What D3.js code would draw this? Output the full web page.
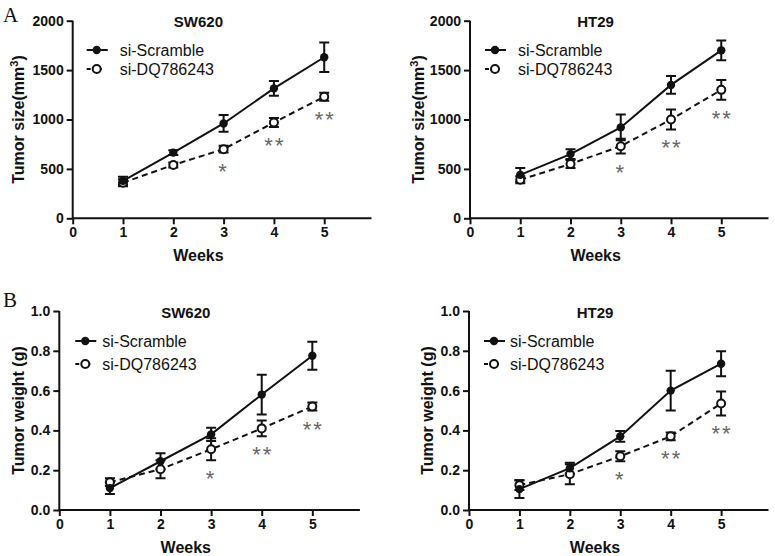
<!DOCTYPE html>
<html><head><meta charset="utf-8">
<script src="https://cdn.jsdelivr.net/npm/d3@7"></script>
<style>body{margin:0;background:#fff}svg{display:block}</style>
</head><body>
<script>
const weeks = [1, 2, 3, 4, 5];
const xTicks = [0, 1, 2, 3, 4, 5];
const stars = ["", "", "*", "**", "**"];
const seriesNames = ["si-Scramble", "si-DQ786243"];

// Panel A – tumor size (mm3)
const sizeTicks = [0, 500, 1000, 1500, 2000];
const swSizeScr = [380, 665, 960, 1315, 1630];
const swSizeScrErr = [40, 25, 85, 75, 150];
const swSizeDq = [360, 540, 700, 970, 1230];
const swSizeDqErr = [35, 25, 35, 45, 40];
const htSizeScr = [440, 650, 920, 1350, 1700];
const htSizeScrErr = [70, 50, 130, 90, 100];
const htSizeDq = [390, 550, 730, 1000, 1300];
const htSizeDqErr = [35, 40, 75, 100, 100];

// Panel B – tumor weight (g)
const weightTicks = [0, 0.2, 0.4, 0.6, 0.8, 1.0];
const swWtScr = [0.11, 0.245, 0.38, 0.58, 0.775];
const swWtScrErr = [0.03, 0.04, 0.033, 0.10, 0.07];
const swWtDq = [0.14, 0.205, 0.305, 0.41, 0.52];
const swWtDqErr = [0.02, 0.045, 0.055, 0.04, 0.02];
const htWtScr = [0.105, 0.21, 0.37, 0.60, 0.735];
const htWtScrErr = [0.045, 0.028, 0.027, 0.10, 0.063];
const htWtDq = [0.125, 0.18, 0.27, 0.37, 0.535];
const htWtDqErr = [0.025, 0.05, 0.025, 0.02, 0.06];

const W = 775, H = 556;
const svg = d3.select("body").append("svg").attr("width", W).attr("height", H);
const SANS = "'Liberation Sans', Arial, sans-serif";

const panels = [
  {title: "SW620", x0: 72.7, x1: 371.5, yTop: 20.7, yBot: 218.3, yMax: 2000, ticks: sizeTicks, fmt: d3.format("d"),
   scr: swSizeScr, scrErr: swSizeScrErr, dq: swSizeDq, dqErr: swSizeDqErr, ylab: "size", ylabX: 24, legY: [50, 69], legDx: 24, legTx: 47},
  {title: "HT29", x0: 470, x1: 768.5, yTop: 20.7, yBot: 218.3, yMax: 2000, ticks: sizeTicks, fmt: d3.format("d"),
   scr: htSizeScr, scrErr: htSizeScrErr, dq: htSizeDq, dqErr: htSizeDqErr, ylab: "size", ylabX: 424, legY: [50, 69], legDx: 25, legTx: 48},
  {title: "SW620", x0: 59.3, x1: 359.9, yTop: 311, yBot: 510, yMax: 1.0, ticks: weightTicks, fmt: d3.format(".1f"),
   scr: swWtScr, scrErr: swWtScrErr, dq: swWtDq, dqErr: swWtDqErr, ylab: "weight", ylabX: 24, legY: [341, 364], legDx: 26, legTx: 43},
  {title: "HT29", x0: 469, x1: 768.5, yTop: 311, yBot: 510, yMax: 1.0, ticks: weightTicks, fmt: d3.format(".1f"),
   scr: htWtScr, scrErr: htWtScrErr, dq: htWtDq, dqErr: htWtDqErr, ylab: "weight", ylabX: 433, legY: [341, 364], legDx: 25, legTx: 41}
];

panels.forEach(p => {
  const x = d3.scaleLinear().domain([0, 5.94]).range([p.x0, p.x1]);
  const y = d3.scaleLinear().domain([0, p.yMax]).range([p.yBot, p.yTop]);
  const g = svg.append("g");

  // axes
  const ya = g.append("g").attr("transform", `translate(${p.x0},0)`)
    .call(d3.axisLeft(y).tickValues(p.ticks).tickFormat(p.fmt).tickSize(6).tickPadding(3));
  const xa = g.append("g").attr("transform", `translate(0,${p.yBot})`)
    .call(d3.axisBottom(x).tickValues(xTicks).tickFormat(d3.format("d")).tickSize(6).tickPadding(3));
  [ya, xa].forEach(a => {
    a.select(".domain").attr("stroke", "#111").attr("stroke-width", 2).attr("d", null);
    a.selectAll(".tick line").attr("stroke", "#111").attr("stroke-width", 2);
    a.selectAll(".tick text").attr("fill", "#111").style("font-family", SANS).style("font-weight", "bold").style("font-size", "14px");
  });
  ya.select(".domain").attr("d", `M0,${p.yTop}V${p.yBot}`);
  xa.select(".domain").attr("d", `M${p.x0},0H${p.x1}`);

  // title
  g.append("text").attr("x", x(2.5)).attr("y", p.yTop + 6.5).attr("text-anchor", "middle")
    .style("font-family", SANS).style("font-weight", "bold").style("font-size", "15px").attr("fill", "#111").text(p.title);

  // x label
  g.append("text").attr("x", x(2.5)).attr("y", p.yBot + 43).attr("text-anchor", "middle")
    .style("font-family", SANS).style("font-weight", "bold").style("font-size", "16px").attr("fill", "#111").text("Weeks");

  // y label
  const yl = g.append("text").attr("transform", `translate(${p.ylabX},${(p.yTop + p.yBot) / 2}) rotate(-90)`)
    .attr("text-anchor", "middle").style("font-family", SANS).style("font-weight", "bold").style("font-size", "16px").attr("fill", "#111");
  if (p.ylab === "size") {
    yl.append("tspan").text("Tumor size(mm");
    yl.append("tspan").attr("dy", -6).style("font-size", "11px").text("3");
    yl.append("tspan").attr("dy", 6).text(")");
  } else {
    yl.text("Tumor weight (g)");
  }

  const line = d3.line().x((d, i) => x(weeks[i])).y(d => y(d));

  // lines
  g.append("path").datum(p.dq).attr("d", line).attr("fill", "none").attr("stroke", "#111")
    .attr("stroke-width", 2).attr("stroke-dasharray", "6,4");
  g.append("path").datum(p.scr).attr("d", line).attr("fill", "none").attr("stroke", "#111").attr("stroke-width", 2);

  // error bars
  function errBars(vals, errs) {
    const eg = g.append("g").attr("stroke", "#111").attr("stroke-width", 2).attr("fill", "none");
    vals.forEach((v, i) => {
      const cx = x(weeks[i]), yh = y(v + errs[i]), yl2 = y(v - errs[i]);
      eg.append("path").attr("d", `M${cx},${yh}V${yl2}M${cx - 5},${yh}H${cx + 5}M${cx - 5},${yl2}H${cx + 5}`);
    });
  }
  errBars(p.scr, p.scrErr);
  errBars(p.dq, p.dqErr);

  // markers
  g.selectAll(null).data(p.dq).enter().append("circle")
    .attr("cx", (d, i) => x(weeks[i])).attr("cy", d => y(d)).attr("r", 4)
    .attr("fill", "#fff").attr("stroke", "#111").attr("stroke-width", 2);
  g.selectAll(null).data(p.scr).enter().append("circle")
    .attr("cx", (d, i) => x(weeks[i])).attr("cy", d => y(d)).attr("r", 4.2).attr("fill", "#111");

  // significance stars
  g.selectAll(null).data(stars).enter().append("text")
    .attr("x", (d, i) => x(weeks[i]) + (d.length > 1 ? 1 : 0))
    .attr("y", (d, i) => y(p.dq[i] - p.dqErr[i]) + 26)
    .attr("text-anchor", "middle").style("font-family", SANS).style("font-size", "22px")
    .style("letter-spacing", "2px").attr("fill", "#666").text(d => d);

  // legend
  const lx = p.x0 + p.legDx;
  const lg = g.append("g");
  lg.append("line").attr("x1", lx - 10).attr("x2", lx + 11).attr("y1", p.legY[0]).attr("y2", p.legY[0])
    .attr("stroke", "#111").attr("stroke-width", 2);
  lg.append("circle").attr("cx", lx).attr("cy", p.legY[0]).attr("r", 4.2).attr("fill", "#111");
  lg.append("line").attr("x1", lx - 10).attr("x2", lx + 11).attr("y1", p.legY[1]).attr("y2", p.legY[1])
    .attr("stroke", "#111").attr("stroke-width", 2).attr("stroke-dasharray", "4,7");
  lg.append("circle").attr("cx", lx).attr("cy", p.legY[1]).attr("r", 4).attr("fill", "#fff")
    .attr("stroke", "#111").attr("stroke-width", 2);
  seriesNames.forEach((n, i) => {
    lg.append("text").attr("x", p.x0 + p.legTx).attr("y", p.legY[i] + 6)
      .style("font-family", SANS).style("font-size", "16px").attr("fill", "#111").text(n);
  });
});

// panel letters
svg.append("text").attr("x", 3).attr("y", 22).style("font-family", "'Liberation Serif', 'Times New Roman', serif")
  .style("font-size", "21px").attr("fill", "#111").text("A");
svg.append("text").attr("x", 3).attr("y", 307).style("font-family", "'Liberation Serif', 'Times New Roman', serif")
  .style("font-size", "21px").attr("fill", "#111").text("B");
</script>
</body></html>
